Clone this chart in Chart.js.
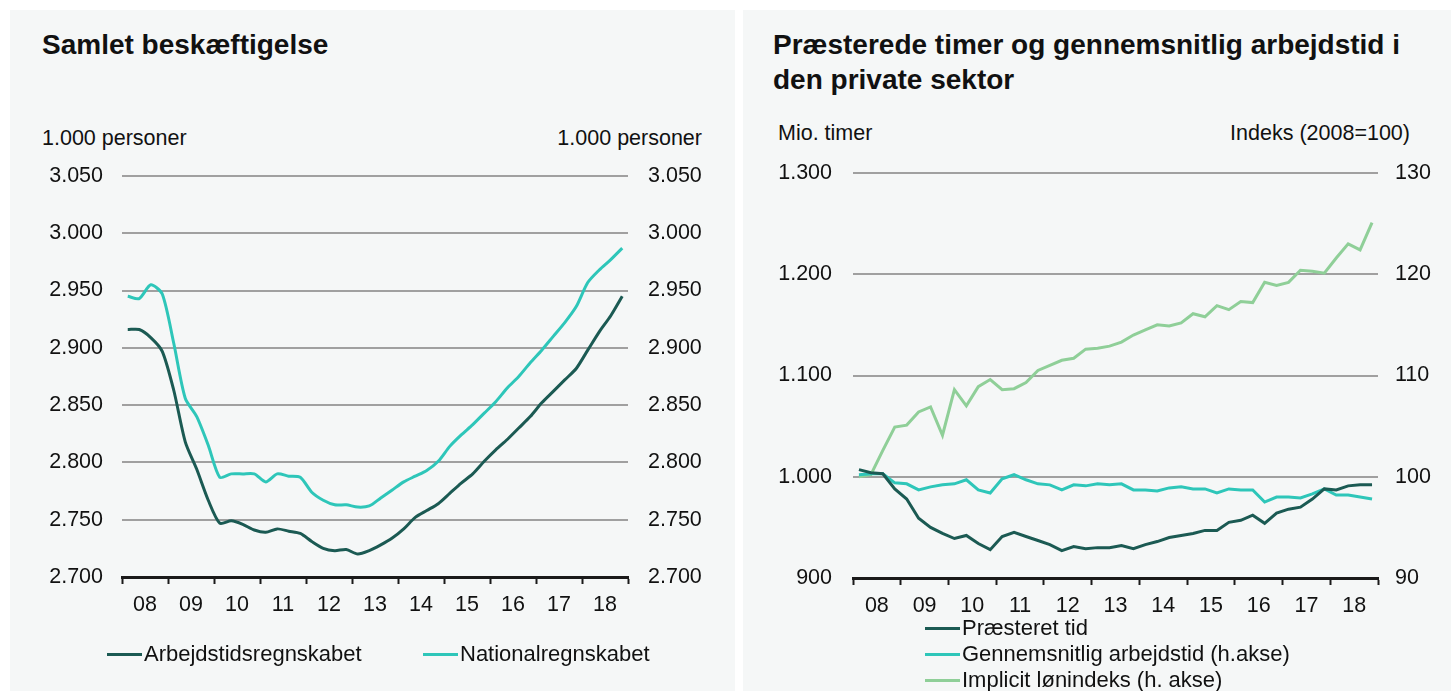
<!DOCTYPE html>
<html lang="da">
<head>
<meta charset="utf-8">
<script src="https://cdn.jsdelivr.net/npm/chart.js@4.4.1/dist/chart.umd.min.js"></script>
<style>
  body { margin: 0; width: 1451px; height: 691px; overflow: hidden; background: #fff;
         font-family: "Liberation Sans", Arial, sans-serif; color: #111; }
  .panel { position: absolute; top: 10px; height: 681px; background: #f5f7f7; }
  #left { left: 10px; width: 725px; }
  #right { left: 743px; width: 708px; }
  .panel canvas { position: absolute; left: 0; top: 0; }
  .title { position: absolute; top: 17px; font-weight: bold; font-size: 28px; line-height: 35px; white-space: nowrap; }
  .unit { position: absolute; font-size: 21.5px; line-height: 24px; white-space: nowrap; }
  .legend { position: absolute; font-size: 22px; line-height: 26px; white-space: nowrap; }
  .item { position: absolute; display: flex; align-items: center; }
  .swatch { display: inline-block; width: 35px; height: 3px; margin-right: 2px; }
</style>
</head>
<body>
<div class="panel" id="left">
  <div class="title" style="left:32px">Samlet beskæftigelse</div>
  <div class="unit" style="left:32px; top:116px">1.000 personer</div>
  <div class="unit" style="right:33px; top:116px">1.000 personer</div>
  <canvas id="chartLeft" width="725" height="681"></canvas>
  <div class="legend" id="legendLeft"></div>
</div>
<div class="panel" id="right">
  <div class="title" style="left:30px">Præsterede timer og gennemsnitlig arbejdstid i<br>den private sektor</div>
  <div class="unit" style="left:35px; top:111px">Mio. timer</div>
  <div class="unit" style="right:41px; top:111px">Indeks (2008=100)</div>
  <canvas id="chartRight" width="708" height="681"></canvas>
  <div class="legend" id="legendRight"></div>
</div>
<script>
// kvartaler 2008K1 - 2018K4
const years = [2008, 2009, 2010, 2011, 2012, 2013, 2014, 2015, 2016, 2017, 2018];
const yearLabels = ["08", "09", "10", "11", "12", "13", "14", "15", "16", "17", "18"];
const quarters = years.flatMap(y => [1, 2, 3, 4].map(q => ({ year: y, q })));

// Samlet beskæftigelse, 1.000 personer
const arbejdstid = [2916, 2916, 2909, 2897, 2863, 2818, 2794, 2767, 2747, 2749, 2746,
  2741, 2739, 2742, 2740, 2738, 2731, 2725, 2723, 2724, 2720, 2723, 2728, 2734, 2742,
  2752, 2758, 2764, 2773, 2782, 2790, 2801, 2811, 2820, 2830, 2840, 2852, 2862, 2872,
  2882, 2898, 2914, 2928, 2945];
const nationalregnskab = [2945, 2943, 2955, 2947, 2904, 2856, 2840, 2815, 2787, 2790, 2790,
  2790, 2783, 2790, 2788, 2787, 2774, 2767, 2763, 2763, 2761, 2762, 2769, 2776, 2783,
  2788, 2793, 2801, 2814, 2824, 2833, 2843, 2853, 2865, 2875, 2887, 2898, 2910, 2922,
  2936, 2957, 2968, 2977, 2987];

// Præsterede timer (mio.) og indeks (2008=100)
const praesteretTid = [1007, 1004, 1003, 988, 978, 959, 950, 944, 939, 942, 934, 928,
  941, 945, 941, 937, 933, 927, 931, 929, 930, 930, 932, 929, 933, 936, 940, 942, 944,
  947, 947, 955, 957, 962, 954, 964, 968, 970, 978, 988, 987, 991, 992, 992];
const arbejdstidGns = [100.2, 100.3, 100.3, 99.4, 99.3, 98.7, 99.0, 99.2, 99.3, 99.7,
  98.7, 98.4, 99.8, 100.2, 99.7, 99.3, 99.2, 98.7, 99.2, 99.1, 99.3, 99.2, 99.3, 98.7,
  98.7, 98.6, 98.9, 99.0, 98.8, 98.8, 98.4, 98.8, 98.7, 98.7, 97.5, 98.0, 98.0, 97.9,
  98.3, 98.8, 98.2, 98.2, 98.0, 97.8];
const loenindeks = [100.0, 100.2, 102.6, 104.9, 105.1, 106.4, 106.9, 104.1, 108.6, 107.0,
  108.9, 109.6, 108.6, 108.7, 109.3, 110.5, 111.0, 111.5, 111.7, 112.6, 112.7, 112.9,
  113.3, 114.0, 114.5, 115.0, 114.9, 115.2, 116.1, 115.8, 116.9, 116.5, 117.3, 117.2,
  119.2, 118.9, 119.2, 120.4, 120.3, 120.1, 121.6, 123.0, 122.4, 125.1];

const darkTeal = "#1b5a53";
const cyan = "#2ec6b9";
const lightGreen = "#8fcf98";

Chart.defaults.font.family = '"Liberation Sans", Arial, sans-serif';
Chart.defaults.font.size = 21.5;
Chart.defaults.color = "#111";

function fmt(v) {
  return String(v).replace(/\B(?=(\d{3})+(?!\d))/g, ".");
}

function toPoints(values) {
  return values.map((v, i) => ({ x: quarters[i].year + (quarters[i].q - 0.5) / 4, y: v }));
}

function xAxis(height) {
  return {
    type: "linear",
    min: years[0],
    max: years[years.length - 1] + 1,
    afterBuildTicks: axis => {
      const ticks = [];
      years.forEach(y => { ticks.push({ value: y }); ticks.push({ value: y + 0.5 }); });
      ticks.push({ value: years[years.length - 1] + 1 });
      axis.ticks = ticks;
    },
    afterFit: scale => { scale.height = height; },
    grid: {
      drawOnChartArea: false,
      tickLength: 7,
      tickWidth: 2,
      tickColor: ctx => (ctx.tick && Number.isInteger(ctx.tick.value) ? "#1a1a1a" : "rgba(0,0,0,0)")
    },
    border: { display: true, color: "#1a1a1a", width: 3 },
    ticks: {
      autoSkip: false,
      maxRotation: 0,
      padding: 8,
      callback: v => (Number.isInteger(v) ? "" : yearLabels[Math.floor(v) - years[0]])
    }
  };
}

function yAxis(position, min, max, step, width, pad, grid) {
  return {
    position,
    min, max,
    afterFit: scale => { scale.width = width; },
    grid: grid
      ? { color: "#a0a0a0", lineWidth: 2, drawTicks: false }
      : { drawOnChartArea: false, drawTicks: false },
    border: { display: false },
    ticks: { stepSize: step, padding: pad, callback: v => fmt(v) }
  };
}

function buildLegend(el, datasets, positions) {
  datasets.forEach((ds, i) => {
    const item = document.createElement("div");
    item.className = "item";
    item.style.left = positions[i][0] + "px";
    item.style.top = positions[i][1] + "px";
    const sw = document.createElement("span");
    sw.className = "swatch";
    sw.style.background = ds.borderColor;
    item.appendChild(sw);
    item.appendChild(document.createTextNode(ds.label));
    el.appendChild(item);
  });
}

const leftDatasets = [
  { label: "Arbejdstidsregnskabet", data: toPoints(arbejdstid), borderColor: darkTeal, yAxisID: "y" },
  { label: "Nationalregnskabet", data: toPoints(nationalregnskab), borderColor: cyan, yAxisID: "y" }
];

new Chart(document.getElementById("chartLeft"), {
  type: "line",
  data: { datasets: leftDatasets },
  options: {
    responsive: false,
    animation: false,
    layout: { padding: { top: 166 } },
    elements: { point: { radius: 0 }, line: { borderWidth: 3, tension: 0.25 } },
    plugins: { legend: { display: false }, tooltip: { enabled: false } },
    scales: {
      x: xAxis(114),
      y: yAxis("left", 2700, 3050, 50, 112, 19, true),
      y2: yAxis("right", 2700, 3050, 50, 107, 20, false)
    }
  }
});

const rightDatasets = [
  { label: "Præsteret tid", data: toPoints(praesteretTid), borderColor: darkTeal, yAxisID: "y" },
  { label: "Gennemsnitlig arbejdstid (h.akse)", data: toPoints(arbejdstidGns), borderColor: cyan, yAxisID: "y2" },
  { label: "Implicit lønindeks (h. akse)", data: toPoints(loenindeks), borderColor: lightGreen, yAxisID: "y2" }
];

new Chart(document.getElementById("chartRight"), {
  type: "line",
  data: { datasets: rightDatasets },
  options: {
    responsive: false,
    animation: false,
    layout: { padding: { top: 163 } },
    elements: { point: { radius: 0 }, line: { borderWidth: 3, tension: 0 } },
    plugins: { legend: { display: false }, tooltip: { enabled: false } },
    scales: {
      x: xAxis(113),
      y: yAxis("left", 900, 1300, 100, 110, 21, true),
      y2: yAxis("right", 90, 130, 10, 73, 17, false)
    }
  }
});

buildLegend(document.getElementById("legendLeft"), leftDatasets, [[97, 631], [413, 631]]);
buildLegend(document.getElementById("legendRight"), rightDatasets, [[182, 605], [182, 631], [182, 657]]);
</script>
</body>
</html>
